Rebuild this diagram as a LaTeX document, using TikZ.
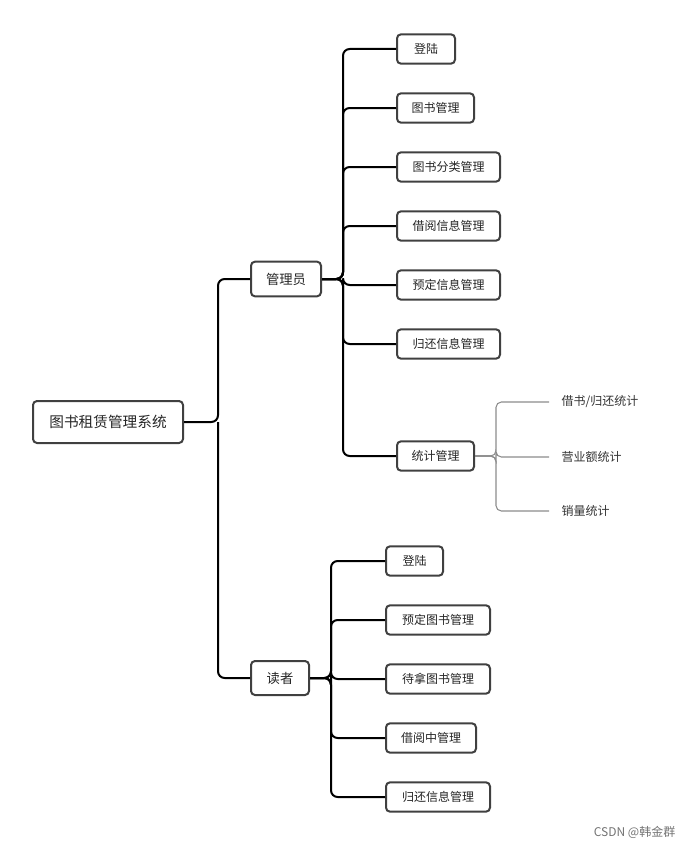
\documentclass[tikz,border=0pt]{standalone}
\usepackage{fontspec}
\setmainfont{Noto Sans CJK SC}
\begin{document}
\begin{tikzpicture}[x=0.75pt,y=-0.75pt,
 box/.style={draw=black!75,line width=1.5pt,rounded corners=3pt,fill=white,inner sep=0pt,text=black!85},
 link/.style={line width=1.5pt,rounded corners=5pt},
 glink/.style={draw=black!45,line width=0.8pt,rounded corners=4pt},
 leaf/.style={font=\fontsize{9}{10}\selectfont,text=black!80,anchor=west}]
\useasboundingbox (0,0) rectangle (692,849);
\node[box,minimum width=112.5pt,minimum height=31.5pt,font=\fontsize{11}{12}\selectfont] (root) at (108,422) {图书租赁管理系统};
\node[box,minimum width=52.5pt,minimum height=26pt,font=\fontsize{10}{12}\selectfont] (adm) at (286,279) {管理员};
\node[box,minimum width=43.5pt,minimum height=25.5pt,font=\fontsize{10}{12}\selectfont] (rd) at (280,678) {读者};
\tikzset{sb/.style={box,minimum height=22pt,font=\fontsize{9}{10}\selectfont,anchor=west}}
\node[sb,minimum width=43.5pt] (a1) at (396,49) {登陆};
\node[sb,minimum width=57.75pt] (a2) at (396,108) {图书管理};
\node[sb,minimum width=77.25pt] (a3) at (396,167) {图书分类管理};
\node[sb,minimum width=77.25pt] (a4) at (396,226) {借阅信息管理};
\node[sb,minimum width=77.25pt] (a5) at (396,285) {预定信息管理};
\node[sb,minimum width=77.25pt] (a6) at (396,344) {归还信息管理};
\node[sb,minimum width=57.75pt] (a7) at (396,456) {统计管理};
\node[sb,minimum width=42.75pt] (r1) at (385,561) {登陆};
\node[sb,minimum width=78pt] (r2) at (385,620) {预定图书管理};
\node[sb,minimum width=78pt] (r3) at (385,679) {待拿图书管理};
\node[sb,minimum width=67.5pt] (r4) at (385,738) {借阅中管理};
\node[sb,minimum width=78pt] (r5) at (385,797) {归还信息管理};
\node[leaf] (s1) at (557,402) {借书/归还统计};
\node[leaf] (s2) at (557,457) {营业额统计};
\node[leaf] (s3) at (557,511) {销量统计};
\node[font=\fontsize{9}{10}\selectfont,text=black!55,anchor=east] (wm) at (680,832) {CSDN @韩金群};
% root links
\draw[link] (root.east) -- (218,422) |- (adm.west);
\draw[link] (218,422) |- (rd.west);
\foreach \n in {a1,a2,a3,a4,a5,a6,a7} \draw[link] (adm.east) -- (343,279) |- (\n.west);
\foreach \n in {r1,r2,r3,r4,r5} \draw[link] (rd.east) -- (331,678) |- (\n.west);
\foreach \n in {s1,s2,s3} \draw[glink] (a7.east) -- (496,456) |- ([xshift=-6pt]\n.west);
\end{tikzpicture}
\end{document}
